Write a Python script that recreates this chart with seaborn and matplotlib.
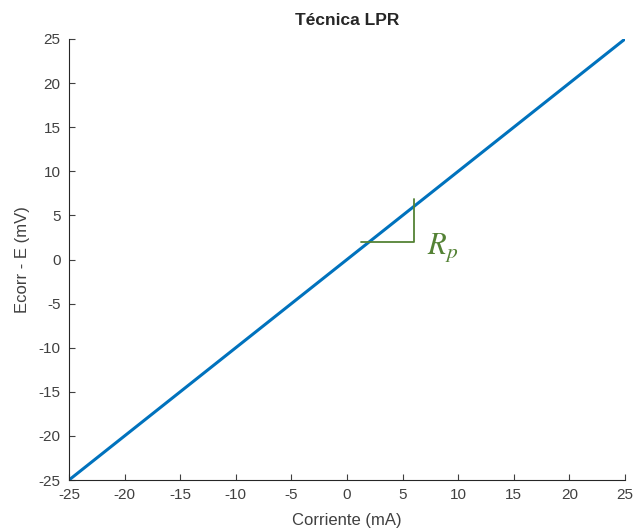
import matplotlib
matplotlib.use("Agg")
import matplotlib.pyplot as plt
import seaborn as sns
import pandas as pd

# Linear polarization resistance: potential vs current
corriente = [-25, 25]
potencial = [-25, 25]

# Slope triangle marking Rp
tri_x = [1.3, 6.0, 6.0]
tri_y = [2.0, 2.0, 6.9]

ticks = [-25, -20, -15, -10, -5, 0, 5, 10, 15, 20, 25]

sns.set_theme(style="ticks")
plt.rcParams["font.family"] = ["Liberation Sans", "DejaVu Sans"]
plt.rcParams["axes.unicode_minus"] = False

fig = plt.figure(figsize=(6.34, 5.31), dpi=100)
ax = fig.add_axes([69 / 634, 1 - 480 / 531, (625 - 69) / 634, (480 - 39) / 531])

df = pd.DataFrame({"Corriente (mA)": corriente, "Ecorr - E (mV)": potencial})
sns.lineplot(data=df, x="Corriente (mA)", y="Ecorr - E (mV)", ax=ax,
             color="#0072BD", linewidth=2.2)

ax.plot(tri_x, tri_y, color="#548235", linewidth=1.3)
ax.text(7.2, 1.4, r"$R_p$", color="#548235", fontsize=22,
        math_fontfamily="stix", ha="left", va="center")

ax.set_xlim(-25, 25)
ax.set_ylim(-25, 25)
ax.set_xticks(ticks)
ax.set_yticks(ticks)
ax.tick_params(direction="in", length=4, width=0.8, labelsize=11,
               colors="#404040", pad=6)
for s in ["top", "right"]:
    ax.spines[s].set_visible(False)
for s in ["left", "bottom"]:
    ax.spines[s].set_linewidth(0.8)
    ax.spines[s].set_color("#262626")

ax.set_xlabel("Corriente (mA)", fontsize=12, color="#404040", labelpad=8)
ax.set_ylabel("Ecorr - E (mV)", fontsize=12, color="#404040", labelpad=6)
ax.set_title("Técnica LPR", fontsize=12.5, fontweight="bold", pad=10)

fig.savefig("out.png", dpi=100)
